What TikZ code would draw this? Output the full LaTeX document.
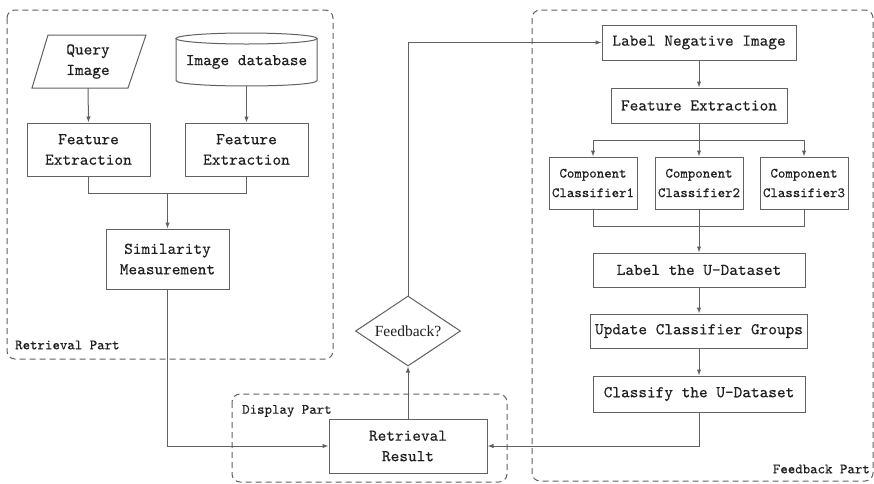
\documentclass[tikz,border=0pt]{standalone}
\usepackage{fontspec}
\newfontfamily\tmsFont{Liberation Serif}
\newfontfamily\myMono[FakeBold=0.25]{lmmono10-regular.otf}
\usetikzlibrary{arrows.meta,shapes.geometric}
\newcommand\myMainFont{\myMono\fontsize{16.5}{20.5}\selectfont}
\newcommand\mySmallFont{\myMono\fontsize{14.2}{19.5}\selectfont}
\begin{document}
\begin{tikzpicture}[x=1pt,y=-1pt,
  every node/.style={text=black!88},
  ln/.style={draw=black!62, line width=1pt},
  arr/.style={ln, -{Latex[length=6pt,width=4.5pt]}},
  pbox/.style={draw=black!62, line width=1pt, rectangle, inner sep=0pt, align=center, font=\myMainFont},
  cbox/.style={pbox, font=\mySmallFont, minimum width=88, minimum height=52},
  grp/.style={draw=black!62, line width=1pt, dash pattern=on 6pt off 4pt, rounded corners=8pt},
  lbl/.style={font=\mySmallFont, inner sep=0pt}]
\useasboundingbox (0,0) rectangle (874,483);
\fill[white] (0,0) rectangle (874,483);

% group frames
\draw[grp] (7,10) rectangle (333,359);
\draw[grp] (232,394) rectangle (507,482);
\draw[grp] (532,10) rectangle (873,481);
\node[lbl, anchor=west] (lret) at (15,345) {Retrieval Part};
\node[lbl, anchor=west] (ldisp) at (242,411) {Display Part};
\node[lbl, anchor=east] (lfeed) at (870,469) {Feedback Part};

% retrieval part
\draw[draw=black!62, line width=1pt] (48,35) -- (146,35) -- (128,88) -- (32,88) -- cycle;
\node[align=center, font=\myMainFont, inner sep=0pt, minimum height=53] (q) at (88,61.5) {Query\\Image};
\draw[draw=black!62, line width=1pt] (176,38.5) -- (176,80.5) .. controls (176,87.8) and (317,87.8) .. (317,80.5) -- (317,38.5);
\draw[draw=black!62, line width=1pt] (246.5,38.5) ellipse[x radius=70.5, y radius=5.5];
\node[font=\myMainFont, inner sep=0pt, minimum height=48] (db) at (246.5,62) {Image database};

\node[pbox, minimum width=123, minimum height=53] (fe1) at (88.5,149.5) {Feature\\Extraction};
\node[pbox, minimum width=123, minimum height=53] (fe2) at (246.5,149.5) {Feature\\Extraction};
\node[pbox, minimum width=123, minimum height=60] (sim) at (167.5,259) {Similarity\\Measurement};

\draw[arr] (q.south) -- (fe1.north);
\draw[arr] (db.south) -- (fe2.north);
\draw[ln] (fe1.south) -- ++(0,17) -| (fe2.south);
\coordinate (m1) at (167.5,193);
\draw[arr] (m1) -- (sim.north);

% display part
\node[pbox, minimum width=158, minimum height=54] (rr) at (408,446) {Retrieval\\Result};
\node[draw=black!62, line width=1pt, diamond, aspect=1.5, minimum width=105, minimum height=70, inner sep=0pt, font=\tmsFont\fontsize{15.5}{18}\selectfont] (fb) at (408,331) {Feedback?};

\draw[arr] (sim.south) |- (rr.west);
\draw[arr] (rr.north) -- (fb.south);

% feedback part
\node[pbox, minimum width=194, minimum height=35] (lni) at (699,42.5) {Label Negative Image};
\node[pbox, minimum width=176, minimum height=35] (fe3) at (699,105.5) {Feature Extraction};
\node[cbox] (c1) at (593,183) {Component\\Classifier1};
\node[cbox] (c2) at (699,183) {Component\\Classifier2};
\node[cbox] (c3) at (804,183) {Component\\Classifier3};
\node[pbox, minimum width=212, minimum height=34] (lud) at (699,270) {Label the U-Dataset};
\node[pbox, minimum width=217, minimum height=34] (ucg) at (699,331) {Update Classifier Groups};
\node[pbox, minimum width=212, minimum height=36] (cud) at (699,394) {Classify the U-Dataset};

\draw[arr] (fb.north) |- (lni.west);
\draw[arr] (lni.south) -- (fe3.north);
\coordinate (br) at (699,140);
\draw[ln] (fe3.south) -- (br);
\draw[arr] (br) -| (c1.north);
\draw[arr] (br) -- (c2.north);
\draw[arr] (br) -| (c3.north);
\draw[ln] (c1.south) -- ++(0,17) -| (c3.south);
\draw[arr] (c2.south) -- (lud.north);
\draw[arr] (lud.south) -- (ucg.north);
\draw[arr] (ucg.south) -- (cud.north);
\draw[arr] (cud.south) |- (rr.east);
\end{tikzpicture}
\end{document}
